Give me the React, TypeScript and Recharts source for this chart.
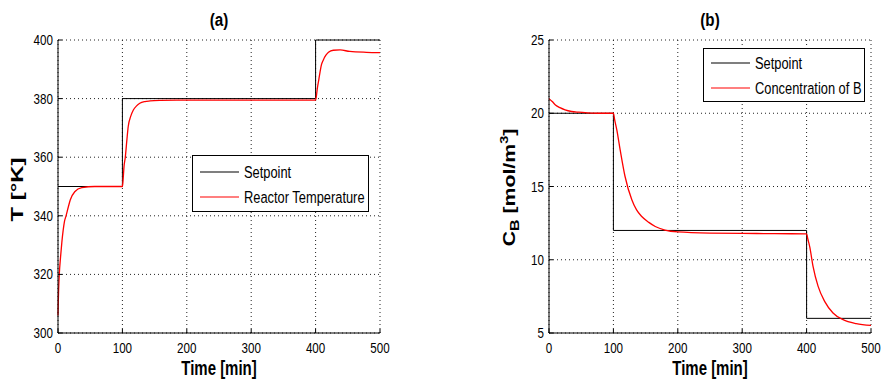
import { LineChart, Line, XAxis, YAxis, CartesianGrid, Legend } from 'recharts'

const FONT = '"Liberation Sans", Arial, Helvetica, sans-serif'

// axis ticks
const timeTicks = [0, 100, 200, 300, 400, 500]
const tempTicks = [300, 320, 340, 360, 380, 400]
const concTicks = [5, 10, 15, 20, 25]

// (a) reactor temperature
const tempSetTime = [0, 100, 100, 400, 400, 500]
const tempSetValue = [350, 350, 380, 380, 400, 400]
const tempTime = [
  0, 0.5, 1, 2, 4, 6, 8, 10, 12.5, 16, 19, 26, 37, 57, 80, 100,
  101, 102.5, 104.5, 107, 109, 113, 117, 122, 127, 135, 143, 160, 184, 250, 320, 400,
  401, 402.7, 405, 407, 409, 412, 416, 420, 427.5, 438, 453, 479, 500,
]
const tempValue = [
  306, 311, 315, 320, 326, 331, 335, 338, 340, 343, 345.4, 348.2, 349.6, 350, 350, 350,
  352, 356.8, 360, 366, 370.4, 374, 376.1, 377.5, 378.4, 379, 379.2, 379.4, 379.5, 379.5, 379.5, 379.5,
  380.5, 383.5, 386.5, 389.2, 391.5, 393.2, 394.8, 395.8, 396.5, 396.6, 396.1, 395.8, 395.7,
]

// (b) concentration of B
const concSetTime = [0, 100, 100, 400, 400, 500]
const concSetValue = [20, 20, 12, 12, 6, 6]
const concTime = [
  0, 5, 10, 17, 25, 35, 46, 60, 80, 100,
  102, 105.3, 110.5, 118, 128.6, 136, 144, 155, 165, 180, 200, 250, 300, 350, 400,
  402, 404.8, 410, 417.9, 428, 441, 456.6, 477, 500,
]
const concValue = [
  21.0, 20.8, 20.57, 20.38, 20.23, 20.12, 20.07, 20.03, 20.0, 20.0,
  19.55, 18.87, 17.5, 15.7, 14.1, 13.4, 12.95, 12.55, 12.27, 12.03, 11.9, 11.82, 11.8, 11.78, 11.77,
  11.4, 10.9, 9.55, 8.18, 7.16, 6.37, 5.91, 5.64, 5.52,
]

const toPoints = (ts: number[], vs: number[]) => ts.map((t, i) => ({ t, v: vs[i] }))

const XTick = (p: any) => (
  <text
    transform={`translate(${p.x},${p.y + 20}) scale(0.83,1)`}
    textAnchor="middle"
    fontSize={14}
    fontFamily={FONT}
    fill="#000"
  >
    {p.payload.value}
  </text>
)

const YTick = (p: any) => (
  <text
    transform={`translate(${p.x - 5},${p.y + 5}) scale(0.83,1)`}
    textAnchor="end"
    fontSize={14}
    fontFamily={FONT}
    fill="#000"
  >
    {p.payload.value}
  </text>
)

const NoTick = () => <g />

// bottom axis label also carries the panel title above the plot
const xTitle = (title: string, titleY: number) => (p: any) => {
  const vb = p.viewBox || { x: 0, y: 0, width: 0, height: 0 }
  const cx = vb.x + vb.width / 2
  return (
    <g>
      <text
        transform={`translate(${cx},${vb.y + 42}) scale(0.75,1)`}
        textAnchor="middle"
        fontSize={20}
        fontWeight="bold"
        fontFamily={FONT}
        fill="#000"
      >
        Time [min]
      </text>
      <text
        transform={`translate(${cx},${titleY}) scale(0.8,1)`}
        textAnchor="middle"
        fontSize={19}
        fontWeight="bold"
        fontFamily={FONT}
        fill="#000"
      >
        {title}
      </text>
    </g>
  )
}

const tempLabel = (p: any) => {
  const vb = p.viewBox || { x: 0, y: 0, width: 0, height: 0 }
  return (
    <text
      transform={`translate(${vb.x + 23},${vb.y + vb.height / 2 + 3}) rotate(-90)`}
      textAnchor="middle"
      fontSize={16}
      fontWeight="bold"
      fontFamily={FONT}
      fill="#000"
      textLength={64}
      lengthAdjust="spacingAndGlyphs"
    >
      T [°K]
    </text>
  )
}

const concLabel = (p: any) => {
  const vb = p.viewBox || { x: 0, y: 0, width: 0, height: 0 }
  return (
    <text
      transform={`translate(${vb.x + 25},${vb.y + vb.height / 2 + 1}) rotate(-90) scale(1.33,1)`}
      textAnchor="middle"
      fontSize={16}
      fontWeight="bold"
      fontFamily={FONT}
      fill="#000"
    >
      <tspan>C</tspan>
      <tspan dy={4} fontSize={12}>B</tspan>
      <tspan dy={-4}>{'  [mol/m'}</tspan>
      <tspan dy={-7} fontSize={11}>3</tspan>
      <tspan dy={7}>]</tspan>
    </text>
  )
}

const legendBox = (w: number, h: number, firstRow: number) => (props: any) => {
  const items = [...(props.payload || [])].sort(
    (a: any, b: any) => (a.value === 'Setpoint' ? -1 : 0) - (b.value === 'Setpoint' ? -1 : 0)
  )
  return (
    <svg width={w} height={h} style={{ display: 'block' }}>
      <rect x={0.5} y={0.5} width={w - 1} height={h - 1} fill="#fff" stroke="#000" />
      {items.map((it: any, i: number) => {
        const cy = firstRow + i * 25
        return (
          <g key={i}>
            <line x1={8} x2={47} y1={cy} y2={cy} stroke={it.color} strokeWidth={1.2} />
            <text
              transform={`translate(52,${cy + 6}) scale(0.78,1)`}
              fontSize={16.5}
              fontFamily={FONT}
              fill="#000"
            >
              {it.value}
            </text>
          </g>
        )
      })}
    </svg>
  )
}

type PanelProps = {
  width: number
  yWidth: number
  rightMargin: number
  domain: [number, number]
  yTicks: number[]
  title: string
  yLabel: (p: any) => any
  setData: { t: number; v: number }[]
  outData: { t: number; v: number }[]
  outName: string
  legend: { left: number; top: number; w: number; h: number; row: number }
}

function Panel(props: PanelProps) {
  const { width, yWidth, rightMargin, domain, yTicks, title, yLabel, setData, outData, outName, legend } = props
  return (
    <LineChart width={width} height={383} margin={{ top: 40, right: rightMargin, bottom: 0, left: 0 }}>
      <CartesianGrid stroke="#222" strokeDasharray="1 3" />
      <XAxis
        dataKey="t"
        type="number"
        domain={[0, 500]}
        ticks={timeTicks}
        interval={0}
        height={50}
        tickSize={-4}
        tickMargin={4}
        tick={XTick}
        axisLine={{ stroke: '#000' }}
        tickLine={{ stroke: '#000' }}
        label={{ content: xTitle(title, 26) }}
      />
      <XAxis
        xAxisId="top"
        orientation="top"
        dataKey="t"
        type="number"
        domain={[0, 500]}
        ticks={timeTicks}
        interval={0}
        height={0}
        tickSize={-4}
        tick={NoTick}
        axisLine={{ stroke: '#000' }}
        tickLine={{ stroke: '#000' }}
      />
      <YAxis
        type="number"
        domain={domain}
        ticks={yTicks}
        interval={0}
        width={yWidth}
        tickSize={-4}
        tickMargin={4}
        tick={YTick}
        axisLine={{ stroke: '#000' }}
        tickLine={{ stroke: '#000' }}
        label={{ content: yLabel }}
      />
      <YAxis
        yAxisId="right"
        orientation="right"
        type="number"
        domain={domain}
        ticks={yTicks}
        interval={0}
        width={0}
        tickSize={-4}
        tick={NoTick}
        axisLine={{ stroke: '#000' }}
        tickLine={{ stroke: '#000' }}
      />
      <Legend
        layout="vertical"
        align="center"
        verticalAlign="middle"
        itemSorter={null as any}
        content={legendBox(legend.w, legend.h, legend.row)}
        wrapperStyle={{ position: 'absolute', left: legend.left, top: legend.top, width: legend.w, height: legend.h }}
      />
      <Line
        data={setData}
        dataKey="v"
        name="Setpoint"
        type="linear"
        stroke="#000"
        strokeWidth={1}
        dot={false}
        isAnimationActive={false}
      />
      <Line
        data={outData}
        dataKey="v"
        name={outName}
        type="monotoneX"
        stroke="#ff0000"
        strokeWidth={1.3}
        dot={false}
        isAnimationActive={false}
      />
    </LineChart>
  )
}

export default function App() {
  return (
    <div style={{ position: 'absolute', left: 0, top: 0, width: 883, height: 383, background: '#fff', fontFamily: FONT }}>
      <div style={{ position: 'absolute', left: 0, top: 0 }}>
        <Panel
          width={400}
          yWidth={58}
          rightMargin={20}
          domain={[300, 400]}
          yTicks={tempTicks}
          title="(a)"
          yLabel={tempLabel}
          setData={toPoints(tempSetTime, tempSetValue)}
          outData={toPoints(tempTime, tempValue)}
          outName="Reactor Temperature"
          legend={{ left: 192, top: 155, w: 177, h: 57, row: 17 }}
        />
      </div>
      <div style={{ position: 'absolute', left: 490, top: 0 }}>
        <Panel
          width={393}
          yWidth={59}
          rightMargin={12}
          domain={[5, 25]}
          yTicks={concTicks}
          title="(b)"
          yLabel={concLabel}
          setData={toPoints(concSetTime, concSetValue)}
          outData={toPoints(concTime, concValue)}
          outName="Concentration of B"
          legend={{ left: 213, top: 48, w: 162, h: 54, row: 15 }}
        />
      </div>
    </div>
  )
}
